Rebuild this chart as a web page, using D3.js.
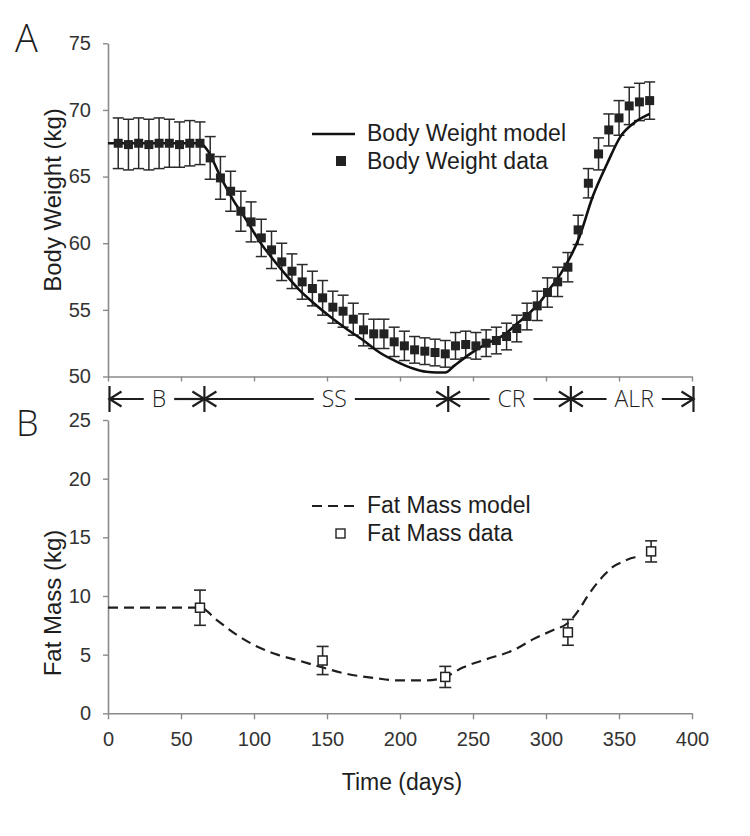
<!DOCTYPE html>
<html><head><meta charset="utf-8">
<script src="https://cdn.jsdelivr.net/npm/d3@7"></script>
<style>body{margin:0;background:#fff}</style>
</head><body><svg id="c" width="750" height="836"></svg>
<script>
// ---------- data ----------
const bwDays = [7,14,21,28,35,42,49,56,63,70,77,84,91,98,105,112,119,126,133,140,147,154,161,168,175,182,189,196,203,210,217,224,231,238,245,252,259,266,273,280,287,294,301,308,315,322,329,336,343,350,357,364,371];
const bwData = [67.5,67.4,67.5,67.4,67.5,67.5,67.4,67.5,67.5,
  66.4,64.9,63.9,62.4,61.6,60.4,59.5,58.6,57.9,57.1,56.6,55.9,55.2,54.9,54.3,53.5,53.2,53.2,52.6,52.3,52.0,51.9,51.8,51.7,
  52.3,52.4,52.3,52.5,52.7,53.0,53.6,54.5,55.3,56.3,57.1,58.2,
  61.0,64.5,66.7,68.5,69.4,70.3,70.6,70.7];
const bwErr = [1.9,1.9,1.9,1.9,1.9,1.8,1.7,1.7,1.6,
  1.6,1.6,1.5,1.5,1.5,1.4,1.4,1.4,1.3,1.3,1.3,1.3,1.2,1.2,1.2,1.2,1.1,1.1,1.1,1.1,1.0,1.0,1.0,1.0,
  1.0,1.0,1.0,1.0,1.0,1.0,1.0,1.0,1.1,1.1,1.1,1.1,
  1.1,1.1,1.2,1.2,1.3,1.4,1.4,1.4];
const bwModelDays = [0,63,68,77,86,95,104,113,122,131,141,152,163,175,186,198,209,218,225,231,237,248,259,271,280,289,296,302,310,323,332,342,351,360,371];
const bwModel = [67.5,67.5,67.0,65.0,63.2,61.7,60.1,58.8,57.6,56.5,55.5,54.5,53.6,52.7,51.8,51.1,50.6,50.35,50.3,50.3,50.8,51.7,52.45,53.1,53.95,54.8,55.6,56.5,57.7,60.5,63.5,66.0,68.0,69.0,69.7];
const fmDays = [63,147,231,315,372];
const fmData = [9.0,4.5,3.1,6.9,13.8];
const fmErr = [1.5,1.2,0.9,1.1,0.9];
const fmModelDays = [0,63,75,88,102,116,129,147,162,183,200,218,231,243,259,278,291,305,315,323,328,335,340,346,352,361,365];
const fmModel = [9.0,9.0,7.9,6.7,5.7,5.0,4.55,3.9,3.4,3.0,2.8,2.8,3.1,3.9,4.6,5.4,6.3,7.1,7.7,8.9,9.9,11.1,11.8,12.5,12.9,13.3,13.35];
const xTicks = [0,50,100,150,200,250,300,350,400];
const bwTicks = [50,55,60,65,70,75];
const fmTicks = [0,5,10,15,20,25];
const phaseBounds = [0,65,232,316,400];
const phaseLabels = ["B","SS","CR","ALR"];

// ---------- layout ----------
const svg = d3.select("#c");
const AX = "#8a8a8a", TXT = "#333", INK = "#1e1e1e";
const FONT = "'Liberation Sans', Arial, sans-serif";
const x = d3.scaleLinear().domain([0,400]).range([108,692]);
const yT = d3.scaleLinear().domain([50,75]).range([376.5,43.3]);
const yB = d3.scaleLinear().domain([0,25]).range([713.3,420]);

function styleAxis(g){
  g.selectAll("path.domain").attr("stroke",AX).attr("stroke-width",1.6);
  g.selectAll(".tick line").attr("stroke",AX).attr("stroke-width",1.4);
  g.selectAll(".tick text").attr("fill",TXT).style("font-family",FONT).style("font-size","20px");
}
// top axes
svg.append("g").attr("transform","translate(108,0)")
  .call(d3.axisLeft(yT).tickValues(bwTicks).tickSize(5).tickPadding(12).tickSizeOuter(0)).call(styleAxis);
svg.append("g").attr("transform",`translate(0,${yT(50)})`)
  .call(d3.axisBottom(x).tickValues(xTicks).tickSize(5).tickFormat("").tickSizeOuter(0)).call(styleAxis);
// bottom axes
svg.append("g").attr("transform","translate(108,0)")
  .call(d3.axisLeft(yB).tickValues(fmTicks).tickSize(5).tickPadding(12).tickSizeOuter(0)).call(styleAxis);
svg.append("g").attr("transform",`translate(0,${yB(0)})`)
  .call(d3.axisBottom(x).tickValues(xTicks).tickSize(6).tickPadding(13).tickSizeOuter(0)).call(styleAxis);

// titles
svg.append("text").attr("transform","translate(61,200) rotate(-90)").attr("text-anchor","middle")
  .style("font-family",FONT).style("font-size","24px").attr("fill",INK).text("Body Weight (kg)");
svg.append("text").attr("transform","translate(61,603) rotate(-90)").attr("text-anchor","middle")
  .style("font-family",FONT).style("font-size","24px").attr("fill",INK).text("Fat Mass (kg)");
svg.append("text").attr("x",402).attr("y",790).attr("text-anchor","middle")
  .style("font-family",FONT).style("font-size","23px").attr("fill",INK).text("Time (days)");
const LF = "'Open Sans', 'DejaVu Sans', sans-serif";
svg.append("text").attr("x",15).attr("y",52).style("font-family",LF).style("font-weight",300)
  .style("font-size","38px").attr("fill",INK).text("A");
svg.append("text").attr("x",16).attr("y",436).style("font-family",LF).style("font-weight",300)
  .style("font-size","36px").attr("fill",INK).text("B");

// ---------- top panel ----------
const bw = bwDays.map((d,i)=>({d, v:bwData[i], e:bwErr[i]}));
const eb = svg.append("g").attr("stroke","#2a2a2a").attr("stroke-width",1.5).attr("fill","none");
bw.forEach(p=>{
  const cx = x(p.d);
  eb.append("line").attr("x1",cx).attr("x2",cx).attr("y1",yT(p.v+p.e)).attr("y2",yT(p.v-p.e));
  eb.append("line").attr("x1",cx-5.5).attr("x2",cx+5.5).attr("y1",yT(p.v+p.e)).attr("y2",yT(p.v+p.e));
  eb.append("line").attr("x1",cx-5.5).attr("x2",cx+5.5).attr("y1",yT(p.v-p.e)).attr("y2",yT(p.v-p.e));
});
const bwM = bwModelDays.map((d,i)=>[d,bwModel[i]]);
svg.append("path").datum(bwM).attr("fill","none").attr("stroke","#111").attr("stroke-width",2.6)
  .attr("d",d3.line().x(d=>x(d[0])).y(d=>yT(d[1])).curve(d3.curveMonotoneX));
svg.append("g").selectAll("rect").data(bw).join("rect")
  .attr("x",p=>x(p.d)-4.5).attr("y",p=>yT(p.v)-4.5).attr("width",9).attr("height",9).attr("fill","#222");

// legend top
svg.append("line").attr("x1",312).attr("x2",355).attr("y1",134).attr("y2",134).attr("stroke","#111").attr("stroke-width",2.6);
svg.append("rect").attr("x",336).attr("y",156).attr("width",10).attr("height",10).attr("fill","#222");
svg.append("text").attr("x",367).attr("y",141).style("font-family",FONT).style("font-size","23px").attr("fill",INK).text("Body Weight model");
svg.append("text").attr("x",367).attr("y",169).style("font-family",FONT).style("font-size","23px").attr("fill",INK).text("Body Weight data");

// ---------- phase row ----------
const pr = svg.append("g").attr("stroke","#1e1e1e").attr("stroke-width",2.2).attr("fill","none");
const py = 399, ah = 12, aw = 7.5;
phaseBounds.forEach(b=>{
  pr.append("line").attr("x1",x(b)+1.5).attr("x2",x(b)+1.5).attr("y1",386).attr("y2",412);
});
phaseLabels.forEach((lab,i)=>{
  const a = x(phaseBounds[i])+1.5, b = x(phaseBounds[i+1])+1.5;
  const cx = (a+b)/2 + (i===1 ? 8 : 2);
  const t = svg.append("text").attr("x",cx).attr("y",py+8).attr("text-anchor","middle")
    .style("font-family",LF).style("font-weight",300).style("font-size","23px").attr("fill",INK).text(lab);
  const w = t.node().getComputedTextLength();
  const gap = 8;
  pr.append("line").attr("x1",a).attr("x2",cx-w/2-gap).attr("y1",py).attr("y2",py);
  pr.append("line").attr("x1",cx+w/2+gap).attr("x2",b).attr("y1",py).attr("y2",py);
  pr.append("path").attr("d",`M${a+ah},${py-aw}L${a},${py}L${a+ah},${py+aw}`);
  pr.append("path").attr("d",`M${b-ah},${py-aw}L${b},${py}L${b-ah},${py+aw}`);
});

// ---------- bottom panel ----------
const fmM = fmModelDays.map((d,i)=>[d,fmModel[i]]);
svg.append("path").datum(fmM).attr("fill","none").attr("stroke","#1e1e1e").attr("stroke-width",2.2)
  .attr("stroke-dasharray","10,6")
  .attr("d",d3.line().x(d=>x(d[0])).y(d=>yB(d[1])).curve(d3.curveMonotoneX));
const fm = fmDays.map((d,i)=>({d, v:fmData[i], e:fmErr[i]}));
const eb2 = svg.append("g").attr("stroke","#2a2a2a").attr("stroke-width",1.6);
fm.forEach(p=>{
  const cx = x(p.d);
  eb2.append("line").attr("x1",cx).attr("x2",cx).attr("y1",yB(p.v+p.e)).attr("y2",yB(p.v-p.e));
  eb2.append("line").attr("x1",cx-6).attr("x2",cx+6).attr("y1",yB(p.v+p.e)).attr("y2",yB(p.v+p.e));
  eb2.append("line").attr("x1",cx-6).attr("x2",cx+6).attr("y1",yB(p.v-p.e)).attr("y2",yB(p.v-p.e));
});
svg.append("g").selectAll("rect").data(fm).join("rect")
  .attr("x",p=>x(p.d)-4.5).attr("y",p=>yB(p.v)-4.5).attr("width",9).attr("height",9)
  .attr("fill","#fff").attr("stroke","#222").attr("stroke-width",1.5);

// legend bottom
svg.append("line").attr("x1",312).attr("x2",355).attr("y1",506).attr("y2",506).attr("stroke","#1e1e1e")
  .attr("stroke-width",2.2).attr("stroke-dasharray","10,6");
svg.append("rect").attr("x",336).attr("y",529).attr("width",9).attr("height",9).attr("fill","#fff").attr("stroke","#222").attr("stroke-width",1.4);
svg.append("text").attr("x",367).attr("y",513).style("font-family",FONT).style("font-size","23px").attr("fill",INK).text("Fat Mass model");
svg.append("text").attr("x",367).attr("y",541).style("font-family",FONT).style("font-size","23px").attr("fill",INK).text("Fat Mass data");
</script></body></html>
